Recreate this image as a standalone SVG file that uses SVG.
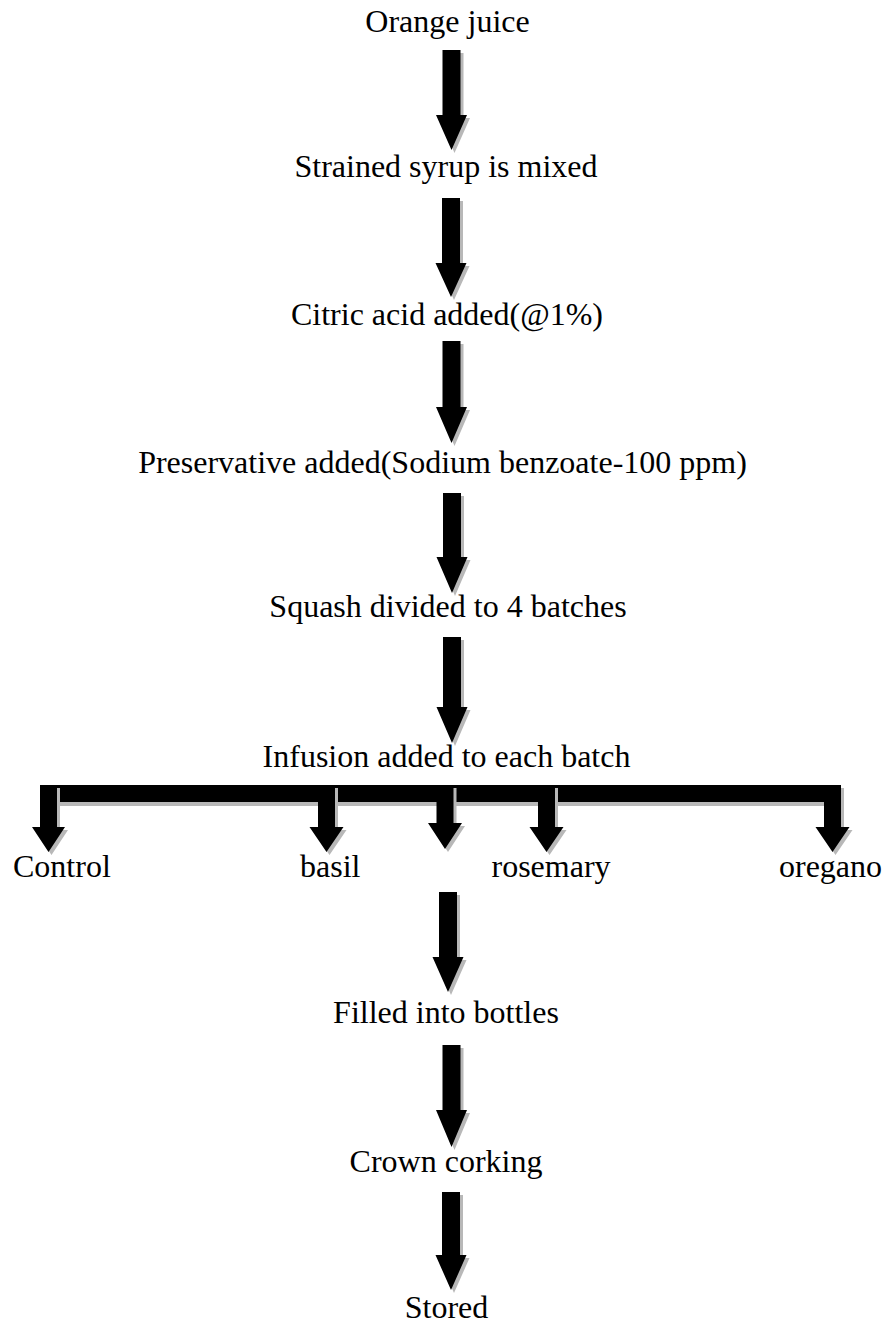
<svg xmlns="http://www.w3.org/2000/svg" xmlns:xlink="http://www.w3.org/1999/xlink" width="886" height="1323" viewBox="0 0 886 1323">
<style>
text{font-family:"Liberation Serif","Times New Roman",serif;font-size:32px;fill:#000}
.c{text-anchor:middle}
.sh{fill:#b8b8b8}
.ar{fill:#000}
</style>
<defs>
<path id="a1" d="M442.5,50H460.5V115H467L451.5,150L436,115H442.5Z"/>
<path id="a2" d="M442,198H460V263H466.5L451,297L435.5,263H442Z"/>
<path id="a3" d="M442.5,341H460.5V407H467L451.5,443L436,407H442.5Z"/>
<path id="a4" d="M443,493H461V557H467.5L452,593L436.5,557H443Z"/>
<path id="a5" d="M443,637H461V707H467.5L452,743L436.5,707H443Z"/>
<path id="a6" d="M439,892H457V957H463.5L448,992L432.5,957H439Z"/>
<path id="a7" d="M442.5,1045H460.5V1110H467L451.5,1147L436,1110H442.5Z"/>
<path id="a8" d="M442,1192H460V1255H466.5L451,1290L435.5,1255H442Z"/>
<rect id="bar" x="40" y="785" width="801" height="17"/>
<path id="b1" d="M40,785H57V827H65L48.5,852L32,827H40Z"/>
<path id="b2" d="M318,785H335V827H343.5L326.5,852L309.5,827H318Z"/>
<path id="b3" d="M436.5,785H453.5V823H462L445,849L428,823H436.5Z"/>
<path id="b4" d="M538,785H555V827H563.5L546.5,852L529.5,827H538Z"/>
<path id="b5" d="M824,785H841V827H849.5L832.5,852L815.5,827H824Z"/>
</defs>
<g id="connectors">
<g id="arrow1"><use xlink:href="#a1" class="sh" transform="translate(3,3)"/><use xlink:href="#a1" class="ar"/></g>
<g id="arrow2"><use xlink:href="#a2" class="sh" transform="translate(3,3)"/><use xlink:href="#a2" class="ar"/></g>
<g id="arrow3"><use xlink:href="#a3" class="sh" transform="translate(3,3)"/><use xlink:href="#a3" class="ar"/></g>
<g id="arrow4"><use xlink:href="#a4" class="sh" transform="translate(3,3)"/><use xlink:href="#a4" class="ar"/></g>
<g id="arrow5"><use xlink:href="#a5" class="sh" transform="translate(3,3)"/><use xlink:href="#a5" class="ar"/></g>
<g id="branch">
<use xlink:href="#bar" class="sh" transform="translate(3,4)"/><use xlink:href="#bar" class="ar"/>
<use xlink:href="#b1" class="sh" transform="translate(3,3)"/><use xlink:href="#b1" class="ar"/>
<use xlink:href="#b2" class="sh" transform="translate(3,3)"/><use xlink:href="#b2" class="ar"/>
<use xlink:href="#b3" class="sh" transform="translate(3,3)"/><use xlink:href="#b3" class="ar"/>
<use xlink:href="#b4" class="sh" transform="translate(3,3)"/><use xlink:href="#b4" class="ar"/>
<use xlink:href="#b5" class="sh" transform="translate(3,3)"/><use xlink:href="#b5" class="ar"/>
</g>
<g id="arrow6"><use xlink:href="#a6" class="sh" transform="translate(3,3)"/><use xlink:href="#a6" class="ar"/></g>
<g id="arrow7"><use xlink:href="#a7" class="sh" transform="translate(3,3)"/><use xlink:href="#a7" class="ar"/></g>
<g id="arrow8"><use xlink:href="#a8" class="sh" transform="translate(3,3)"/><use xlink:href="#a8" class="ar"/></g>
</g>
<g id="orange-juice"><text class="c" x="447.5" y="32">Orange juice</text></g>
<g id="strained-syrup"><text class="c" x="446" y="177">Strained syrup is mixed</text></g>
<g id="citric-acid"><text class="c" x="447" y="325">Citric acid added(@1%)</text></g>
<g id="preservative"><text class="c" x="442.5" y="473">Preservative added(Sodium benzoate-100 ppm)</text></g>
<g id="squash-divided"><text class="c" x="448" y="617">Squash divided to 4 batches</text></g>
<g id="infusion"><text class="c" x="446.5" y="767">Infusion added to each batch</text></g>
<g id="control"><text x="13" y="877">Control</text></g>
<g id="basil"><text x="300" y="877">basil</text></g>
<g id="rosemary"><text x="491.5" y="877">rosemary</text></g>
<g id="oregano"><text x="779" y="877">oregano</text></g>
<g id="filled"><text class="c" x="446" y="1023">Filled into bottles</text></g>
<g id="crown"><text class="c" x="446" y="1172">Crown corking</text></g>
<g id="stored"><text class="c" x="446.5" y="1318">Stored</text></g>
</svg>
